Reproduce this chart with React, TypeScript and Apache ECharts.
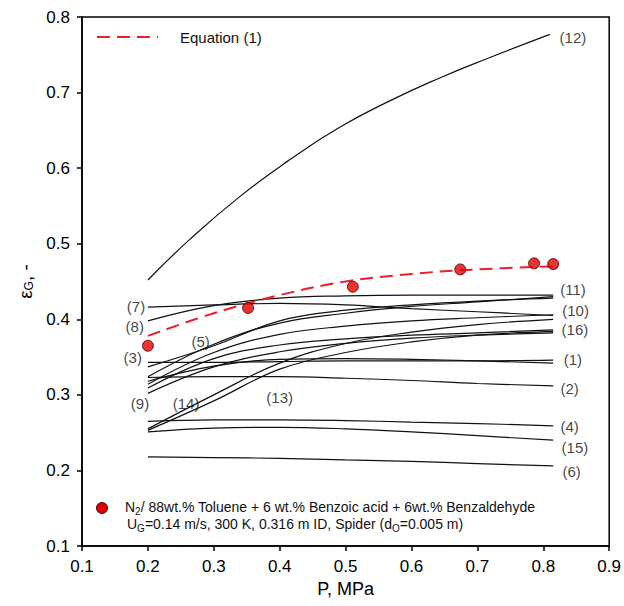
import React, { useEffect, useRef } from "react";
import * as echarts from "echarts";

// Pressure grid (MPa) for the correlation curves (1)-(11), (13)-(16)
const pressures = [0.2, 0.3, 0.4, 0.5, 0.6, 0.7, 0.815];

const curve1 = [0.318, 0.338, 0.347, 0.348, 0.347, 0.345, 0.342];
const curve2 = [0.323, 0.324, 0.324, 0.322, 0.319, 0.315, 0.312];
const curve3 = [0.343, 0.343, 0.344, 0.345, 0.345, 0.345, 0.346];
const curve4 = [0.265, 0.267, 0.267, 0.266, 0.264, 0.262, 0.259];
const curve5 = [0.337, 0.365, 0.398, 0.412, 0.419, 0.424, 0.428];
const curve6 = [0.218, 0.217, 0.216, 0.214, 0.212, 0.209, 0.206];
const curve7 = [0.416, 0.419, 0.421, 0.419, 0.414, 0.41, 0.405];
const curve8 = [0.398, 0.418, 0.428, 0.431, 0.432, 0.432, 0.432];
const curve9 = [0.302, 0.337, 0.357, 0.368, 0.375, 0.379, 0.382];
const curve10 = [0.314, 0.356, 0.38, 0.391, 0.398, 0.402, 0.406];
const curve11 = [0.324, 0.367, 0.395, 0.408, 0.417, 0.423, 0.43];
const curve13 = [0.253, 0.292, 0.334, 0.356, 0.37, 0.379, 0.384];
const curve14 = [0.255, 0.3, 0.342, 0.368, 0.383, 0.393, 0.4];
const curve15 = [0.251, 0.256, 0.257, 0.255, 0.251, 0.246, 0.24];
const curve16 = [0.309, 0.348, 0.366, 0.374, 0.379, 0.382, 0.386];

// Curve (12) read on its own grid
const curve12P = [0.2, 0.264, 0.339, 0.415, 0.491, 0.567, 0.642, 0.718, 0.81];
const curve12 = [0.452, 0.506, 0.562, 0.611, 0.654, 0.689, 0.719, 0.746, 0.777];

// Equation (1)
const equationP = [0.2, 0.3, 0.4, 0.5, 0.6, 0.7, 0.815];
const equationE = [0.378, 0.408, 0.432, 0.45, 0.46, 0.466, 0.47];

// Experimental points
const expP = [0.2, 0.352, 0.511, 0.674, 0.786, 0.815];
const expE = [0.365, 0.415, 0.443, 0.466, 0.474, 0.473];

// Curve labels (data coordinates)
const labelNames = ["(12)", "(11)", "(10)", "(16)", "(1)", "(2)", "(4)", "(15)", "(6)", "(7)", "(8)", "(3)", "(5)", "(9)", "(14)", "(13)"];
const labelP = [0.845, 0.845, 0.849, 0.848, 0.845, 0.84, 0.84, 0.848, 0.843, 0.182, 0.18, 0.177, 0.28, 0.188, 0.258, 0.4];
const labelE = [0.773, 0.44, 0.412, 0.386, 0.347, 0.308, 0.258, 0.23, 0.198, 0.417, 0.391, 0.35, 0.371, 0.289, 0.288, 0.296];

const xTicks = { min: 0.1, max: 0.9, interval: 0.1 };
const yTicks = { min: 0.1, max: 0.8, interval: 0.1 };

const FONT = "'Liberation Sans', Arial, Helvetica, sans-serif";

export default function App() {
  const ref = useRef<HTMLDivElement>(null);

  useEffect(() => {
    if (!ref.current) return;
    const chart = echarts.init(ref.current, undefined, { renderer: "svg" });

    const curves = [
      curve1, curve2, curve3, curve4, curve5, curve6, curve7, curve8,
      curve9, curve10, curve11, curve13, curve14, curve15, curve16,
    ];

    const lineSeries: any[] = curves.map((c) => ({
      type: "line",
      data: pressures.map((p, i) => [p, c[i]]),
      smooth: 0.4,
      symbol: "none",
      silent: true,
      lineStyle: { color: "#111", width: 1.2 },
      z: 2,
    }));

    lineSeries.push({
      type: "line",
      data: curve12P.map((p, i) => [p, curve12[i]]),
      smooth: 0.5,
      symbol: "none",
      silent: true,
      lineStyle: { color: "#111", width: 1.2 },
      z: 2,
    });

    const option: any = {
      animation: false,
      textStyle: { fontFamily: FONT },
      grid: {
        left: 82,
        right: 14,
        top: 17,
        bottom: 60,
        show: true,
        borderColor: "#000",
        borderWidth: 1.5,
        backgroundColor: "transparent",
      },
      xAxis: {
        type: "value",
        min: xTicks.min,
        max: xTicks.max,
        interval: xTicks.interval,
        name: "P, MPa",
        nameLocation: "middle",
        nameGap: 29,
        nameTextStyle: { fontSize: 18, color: "#000", fontFamily: FONT },
        axisLine: { show: true, onZero: false, lineStyle: { color: "#000", width: 1.5 } },
        axisTick: { show: true, inside: false, length: 5, lineStyle: { color: "#000", width: 1.5 } },
        axisLabel: {
          fontSize: 17,
          color: "#000",
          margin: 12,
          fontFamily: FONT,
          showMinLabel: true,
          showMaxLabel: true,
          formatter: (v: number) => v.toFixed(1),
        },
        splitLine: { show: false },
      },
      yAxis: {
        type: "value",
        min: yTicks.min,
        max: yTicks.max,
        interval: yTicks.interval,
        name: "ε{sub|G}, -",
        nameLocation: "middle",
        nameRotate: 90,
        nameGap: 42,
        nameTextStyle: {
          fontSize: 19,
          color: "#000",
          fontFamily: FONT,
          rich: {
            sub: { fontSize: 12, verticalAlign: "bottom", lineHeight: 12, fontFamily: FONT, padding: [6, 0, 0, 0] },
          },
        },
        axisLine: { show: true, onZero: false, lineStyle: { color: "#000", width: 1.5 } },
        axisTick: { show: true, inside: false, length: 5, lineStyle: { color: "#000", width: 1.5 } },
        axisLabel: {
          fontSize: 17,
          color: "#000",
          margin: 12,
          fontFamily: FONT,
          formatter: (v: number) => v.toFixed(1),
        },
        splitLine: { show: false },
      },
      series: [
        ...lineSeries,
        {
          type: "line",
          data: equationP.map((p, i) => [p, equationE[i]]),
          smooth: 0.4,
          symbol: "none",
          silent: true,
          lineStyle: { color: "#e8202a", width: 2, type: [13, 7] },
          z: 3,
        },
        {
          type: "scatter",
          data: expP.map((p, i) => [p, expE[i]]),
          symbol: "circle",
          symbolSize: 11,
          silent: true,
          itemStyle: { color: "#e60000", borderColor: "#4a0000", borderWidth: 1 },
          z: 4,
        },
        {
          type: "scatter",
          data: labelP.map((p, i) => [p, labelE[i], labelNames[i]]),
          symbol: "circle",
          symbolSize: 0,
          silent: true,
          itemStyle: { color: "transparent" },
          label: {
            show: true,
            position: "inside",
            formatter: (params: any) => params.data[2],
            fontSize: 15,
            color: "#111",
            fontFamily: FONT,
          },
          z: 5,
        },
      ],
      graphic: [
        {
          type: "line",
          shape: { x1: 97, y1: 37, x2: 158, y2: 37 },
          style: { stroke: "#e8202a", lineWidth: 2, lineDash: [13, 7] },
          silent: true,
        },
        {
          type: "text",
          x: 180,
          y: 37,
          style: {
            text: "Equation (1)",
            fontSize: 15,
            fontFamily: FONT,
            fill: "#111",
            verticalAlign: "middle",
            align: "left",
          },
          silent: true,
        },
        {
          type: "circle",
          shape: { cx: 102, cy: 508, r: 5.5 },
          style: { fill: "#e60000", stroke: "#4a0000", lineWidth: 1 },
          silent: true,
        },
        {
          type: "text",
          x: 125,
          y: 507,
          style: {
            text: "N{sub|2}/ 88wt.% Toluene + 6 wt.% Benzoic acid + 6wt.% Benzaldehyde",
            fontSize: 14,
            fontFamily: FONT,
            fill: "#111",
            verticalAlign: "middle",
            align: "left",
            lineHeight: 18,
            rich: {
              sub: { fontSize: 10, verticalAlign: "bottom", lineHeight: 10, fontFamily: FONT, fill: "#111" },
            },
          },
          silent: true,
        },
        {
          type: "text",
          x: 127,
          y: 524,
          style: {
            text: "U{sub|G}=0.14 m/s, 300 K, 0.316 m ID, Spider (d{sub|O}=0.005 m)",
            fontSize: 14,
            fontFamily: FONT,
            fill: "#111",
            verticalAlign: "middle",
            align: "left",
            lineHeight: 18,
            rich: {
              sub: { fontSize: 10, verticalAlign: "bottom", lineHeight: 10, fontFamily: FONT, fill: "#111" },
            },
          },
          silent: true,
        },
      ],
    };

    chart.setOption(option);
    return () => chart.dispose();
  }, []);

  return <div ref={ref} style={{ width: 624, height: 606, position: "absolute", left: 0, top: 0 }} />;
}
